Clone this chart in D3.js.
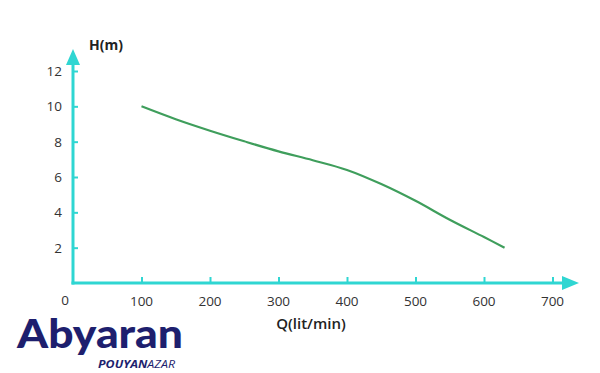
<!DOCTYPE html>
<html><head><meta charset="utf-8">
<script src="https://cdn.jsdelivr.net/npm/d3@7"></script>
<style>html,body{margin:0;padding:0;background:#fff;}svg{display:block;}</style>
</head><body>
<svg id="c" width="600" height="373"></svg>
<script>
const flowQ = [100,150,200,250,300,350,400,450,500,550,600,630];
const headH = [10,9.27,8.62,8.02,7.45,6.95,6.4,5.6,4.65,3.58,2.6,2.0];
const xTicks = [100,200,300,400,500,600,700];
const yTicks = [2,4,6,8,10,12];

const svg = d3.select("#c");
const x = d3.scaleLinear().domain([0,700]).range([73,552.5]);
const y = d3.scaleLinear().domain([0,12]).range([283,71]);
const axisCol = "#2fd6d2";
const font = "'Open Sans', sans-serif";

// y axis
const ya = svg.append("g").attr("transform","translate(73,0)")
  .call(d3.axisRight(y).tickValues(yTicks).tickSize(5).tickFormat(""));
ya.select(".domain").remove();
ya.selectAll("line").attr("stroke",axisCol).attr("stroke-width",2);
svg.append("line").attr("x1",73).attr("x2",73).attr("y1",284.5).attr("y2",62)
  .attr("stroke",axisCol).attr("stroke-width",3);
svg.append("path").attr("d","M73,49 L66,65 L80,65 Z").attr("fill",axisCol);

// x axis
const xa = svg.append("g").attr("transform","translate(0,283)")
  .call(d3.axisTop(x).tickValues(xTicks).tickSize(6).tickFormat(""));
xa.select(".domain").remove();
xa.selectAll("line").attr("stroke",axisCol).attr("stroke-width",2);
svg.append("line").attr("x1",71.5).attr("x2",566).attr("y1",283).attr("y2",283)
  .attr("stroke",axisCol).attr("stroke-width",3);
svg.append("path").attr("d","M579,283 L562,276 L562,290 Z").attr("fill",axisCol);

// tick labels
svg.append("g").selectAll("text").data(yTicks).join("text")
  .attr("x",62).attr("y",d=>y(d)+5).attr("text-anchor","end")
  .attr("font-family",font).attr("font-size",13.5).attr("fill","#333").text(d=>d);
svg.append("g").selectAll("text").data(xTicks).join("text")
  .attr("x",d=>x(d)).attr("y",306).attr("text-anchor","middle")
  .attr("font-family",font).attr("font-size",13.5).attr("fill","#333").text(d=>d);
svg.append("text").attr("x",65).attr("y",305).attr("text-anchor","middle")
  .attr("font-family",font).attr("font-size",13.5).attr("fill","#333").text("0");

svg.append("text").attr("x",89).attr("y",50).attr("font-family",font)
  .attr("font-size",14).attr("font-weight","bold").attr("fill","#222").text("H(m)");
svg.append("text").attr("x",311).attr("y",329).attr("text-anchor","middle").attr("font-family",font)
  .attr("font-size",15).attr("font-weight","600").attr("fill","#222").text("Q(lit/min)");

// curve
const pts = flowQ.map((q,i)=>[q,headH[i]]);
svg.append("path").datum(pts)
  .attr("d", d3.line().x(d=>x(d[0])).y(d=>y(d[1])).curve(d3.curveCatmullRom.alpha(0.5)))
  .attr("fill","none").attr("stroke","#3f9e5c").attr("stroke-width",2.2);

// logo
svg.append("text").attr("x",17).attr("y",348).attr("font-family","'Lato', sans-serif")
  .attr("font-size",40).attr("font-weight","900").attr("textLength",166).attr("lengthAdjust","spacingAndGlyphs")
  .attr("fill","#1e1f6e").text("Abyaran");
const t2 = svg.append("text").attr("x",98).attr("y",368).attr("font-family","'Open Sans', sans-serif")
  .attr("font-size",11).attr("font-style","italic").attr("fill","#1e1f6e")
  .attr("textLength",77).attr("lengthAdjust","spacingAndGlyphs");
t2.append("tspan").attr("font-weight","bold").text("POUYAN");
t2.append("tspan").attr("font-weight","normal").text("AZAR");
</script>
</body></html>
